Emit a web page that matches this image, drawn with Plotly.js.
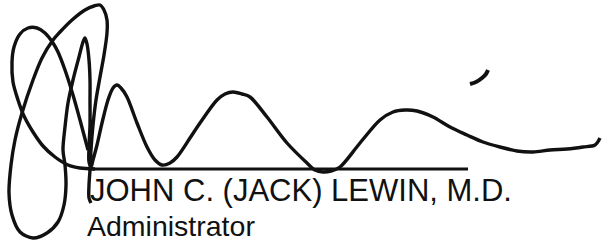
<!DOCTYPE html>
<html>
<head>
<meta charset="utf-8">
<script src="https://cdn.plot.ly/plotly-3.0.1.min.js"></script>
<style>
html,body{margin:0;padding:0;background:#fff;}
#chart{width:602px;height:245px;}
</style>
</head>
<body>
<div id="chart"></div>
<script>
// Signature strokes (pixel coordinates)
var mainStrokeX = [91, 89, 89, 90, 91, 93, 96, 100, 104, 107, 107, 104, 100, 94, 85, 72, 60, 53, 42, 33, 22, 15, 11, 9, 12, 20, 33, 47, 58, 64, 66, 65, 63, 65, 68, 73, 79, 83, 85, 87, 89, 90, 90, 90, 89, 89, 91, 93, 97, 102, 108, 113, 117, 121, 127, 137, 147, 155, 162, 170, 177, 190, 200, 217, 225, 233, 242, 250, 267, 287, 307, 315, 323, 331, 340, 360, 380, 393, 405, 417, 433, 450, 467, 483, 500, 517, 533, 550, 567, 583, 595, 600];
var mainStrokeY = [203, 198, 185, 170, 150, 125, 100, 77, 55, 33, 20, 10, 5, 6, 10, 20, 32, 40, 58, 80, 113, 140, 165, 193, 215, 232, 238, 233, 222, 205, 185, 165, 150, 127, 103, 80, 57, 42, 38, 44, 60, 80, 100, 125, 147, 162, 167, 160, 145, 123, 100, 88, 85, 88, 97, 123, 147, 160, 165, 163, 157, 138, 123, 100, 94, 92, 94, 97, 117, 143, 163, 170, 172, 171, 167, 143, 120, 112, 110, 111, 117, 127, 135, 142, 147, 151, 152, 150, 149, 147, 145, 138];

var loopStrokeX = [88, 80, 73, 65, 58, 53, 45, 37, 28, 20, 14, 12, 13, 18, 24, 33, 43, 55, 68, 80, 95];
var loopStrokeY = [150, 120, 95, 70, 52, 43, 33, 28, 28, 34, 47, 62, 82, 100, 116, 132, 146, 157, 165, 168, 169];

var accentX = [470, 476, 482, 486, 488];
var accentY = [84, 82, 78, 74, 70];

var ruleX = [88, 468];
var ruleY = [169, 169];

var nameLabel = "JOHN C. (JACK) LEWIN, M.D.";
var titleLabel = "Administrator";

var ink = "#111111";

var traces = [
  {x: ruleX, y: ruleY, mode: "lines", line: {color: ink, width: 2.8}, hoverinfo: "skip"},
  {x: mainStrokeX, y: mainStrokeY, mode: "lines", line: {color: ink, width: 3.4, shape: "spline", smoothing: 0.9}, hoverinfo: "skip"},
  {x: loopStrokeX, y: loopStrokeY, mode: "lines", line: {color: ink, width: 3.4, shape: "spline", smoothing: 0.9}, hoverinfo: "skip"},
  {x: accentX, y: accentY, mode: "lines", line: {color: ink, width: 4, shape: "spline"}, hoverinfo: "skip"}
];

var layout = {
  width: 602, height: 245,
  margin: {l: 0, r: 0, t: 0, b: 0},
  paper_bgcolor: "#ffffff", plot_bgcolor: "#ffffff",
  showlegend: false,
  xaxis: {range: [0, 602], visible: false, fixedrange: true},
  yaxis: {range: [245, 0], visible: false, fixedrange: true},
  annotations: [
    {x: 88, y: 190, xref: "x", yref: "y", xanchor: "left", yanchor: "middle", showarrow: false,
     text: nameLabel, font: {family: "Liberation Sans, Arial, sans-serif", size: 31, color: ink}},
    {x: 85, y: 226, xref: "x", yref: "y", xanchor: "left", yanchor: "middle", showarrow: false,
     text: titleLabel, font: {family: "Liberation Sans, Arial, sans-serif", size: 28.5, color: ink}}
  ]
};

Plotly.newPlot("chart", traces, layout, {displayModeBar: false, staticPlot: true});
</script>
</body>
</html>
